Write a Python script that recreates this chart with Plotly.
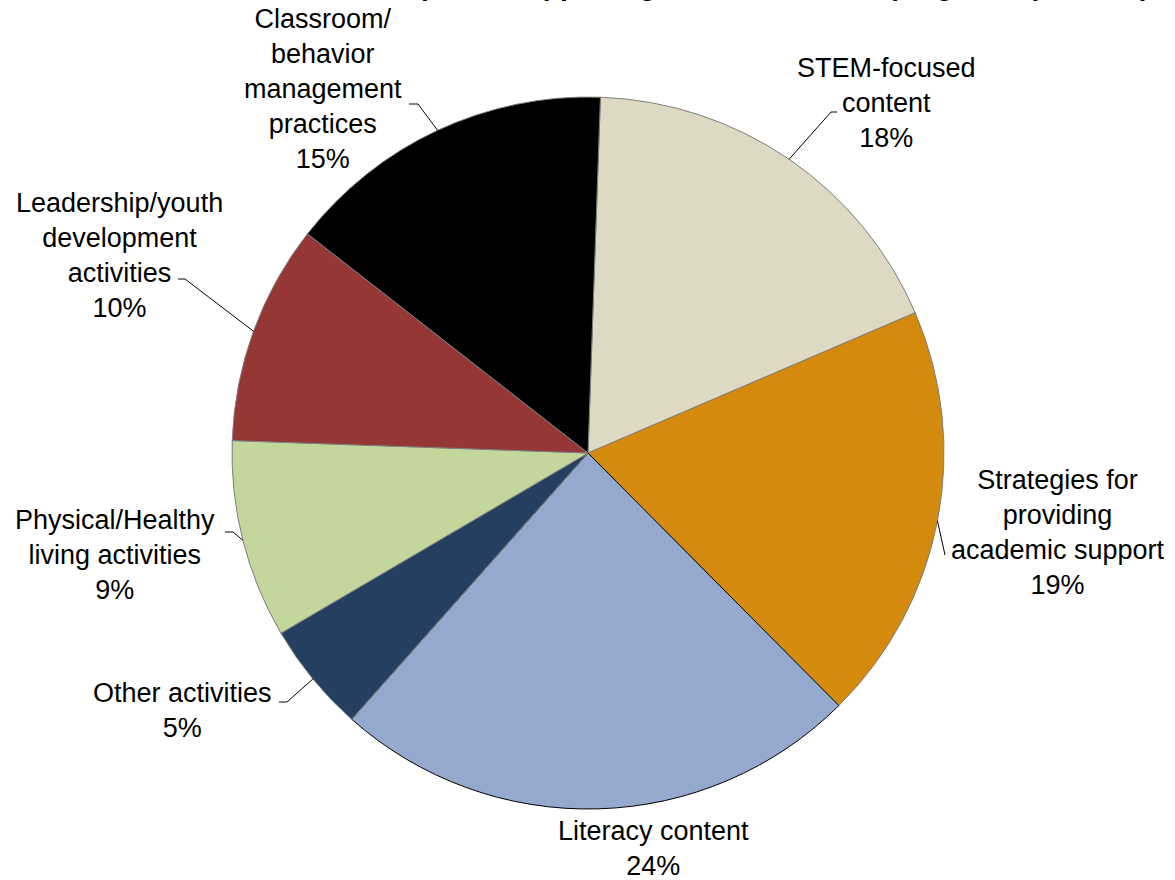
import plotly.graph_objects as go
import math

# ---- data -------------------------------------------------------------
categories = [
    "STEM-focused content",
    "Strategies for providing academic support",
    "Literacy content",
    "Other activities",
    "Physical/Healthy living activities",
    "Leadership/youth development activities",
    "Classroom/behavior management practices",
]
label_text = [
    "STEM-focused<br>content",
    "Strategies for<br>providing<br>academic support",
    "Literacy content",
    "Other activities",
    "Physical/Healthy<br>living activities",
    "Leadership/youth<br>development<br>activities",
    "Classroom/<br>behavior<br>management<br>practices",
]
percent = [18, 19, 24, 5, 9, 10, 15]

colors = ["#DDD9C3", "#D48A0C", "#95A9CF", "#253F61", "#C3D69B", "#953735", "#000000"]
edge_colors = ["#7F7F7F", "#7F7F7F", "#000000", "#7F7F7F", "#7F7F7F", "#7F7F7F", "#7F7F7F"]

# ---- layout geometry (pixels) -----------------------------------------
W, H = 1175, 880
CX, CY, R = 588, 453, 356
ROTATION = 2  # degrees clockwise from 12 o'clock

# label block centres and leader-line elbows (elbow, end of short tail)
label_pos = [
    (886, 103), (1058, 532), (653, 848), (182, 710),
    (115, 555), (119, 255), (323, 89),
]
leader = [
    ((831, 112), (837, 112)),
    ((945, 555), None),
    None,
    ((287, 702), (279, 702)),
    ((233, 532), (225, 532)),
    ((185, 279), (178, 279)),
    ((418, 104), (409, 104)),
]

FONT = "Liberation Sans, Arial, sans-serif"


def px(x):
    return x / W


def py(y):
    return 1 - y / H


fig = go.Figure(
    go.Pie(
        labels=categories,
        values=percent,
        sort=False,
        direction="clockwise",
        rotation=ROTATION,
        marker=dict(colors=colors, line=dict(color=edge_colors, width=1)),
        textinfo="none",
        hoverinfo="label+percent",
        showlegend=False,
        domain=dict(x=[px(CX - R), px(CX + R)], y=[py(CY + R), py(CY - R)]),
    )
)

annotations = []
shapes = []
total = sum(percent)
cum = 0
for i, v in enumerate(percent):
    mid = ROTATION + (cum + v / 2) / total * 360
    cum += v
    ang = math.radians(mid)
    ex, ey = CX + R * math.sin(ang), CY - R * math.cos(ang)
    lx, ly = label_pos[i]
    annotations.append(dict(
        x=px(lx), y=py(ly), xref="paper", yref="paper",
        text=f"{label_text[i]}<br>{v}%", showarrow=False,
        xanchor="center", yanchor="middle", align="center",
        font=dict(family=FONT, size=27, color="#000000"),
    ))
    if leader[i] is not None:
        elbow, tail = leader[i]
        shapes.append(dict(type="line", xref="paper", yref="paper",
                           x0=px(ex), y0=py(ey), x1=px(elbow[0]), y1=py(elbow[1]),
                           line=dict(color="#000000", width=1)))
        if tail is not None:
            shapes.append(dict(type="line", xref="paper", yref="paper",
                               x0=px(elbow[0]), y0=py(elbow[1]), x1=px(tail[0]), y1=py(tail[1]),
                               line=dict(color="#000000", width=1)))

# chart heading, running off the top edge of the page
annotations.append(dict(
    x=px(1152), y=py(3), xref="paper", yref="paper",
    text="<b>Focus areas of Participants' supporting their afterschool programs (all sites)</b>",
    showarrow=False, xanchor="right", yanchor="bottom",
    font=dict(family=FONT, size=28, color="#000000"),
))

fig.update_layout(
    width=W, height=H,
    margin=dict(l=0, r=0, t=0, b=0),
    paper_bgcolor="#FFFFFF", plot_bgcolor="#FFFFFF",
    annotations=annotations, shapes=shapes,
)

fig.write_html("out.html")
